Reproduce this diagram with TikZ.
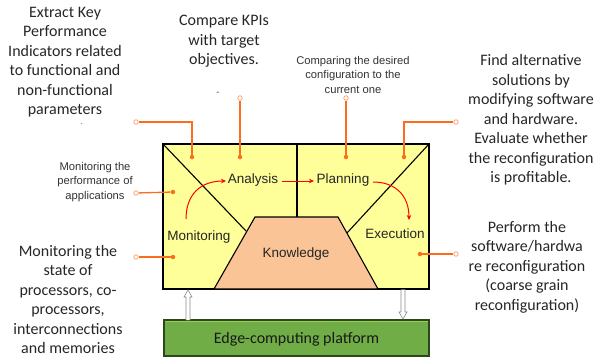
\documentclass[tikz,border=0pt]{standalone}
\usepackage{fontspec}
\setmainfont{Carlito}
\newfontfamily\arialf{Liberation Sans}
\usetikzlibrary{arrows.meta}
\definecolor{boxyellow}{RGB}{255,255,153}
\definecolor{peach}{RGB}{250,196,150}
\definecolor{lineorange}{RGB}{250,110,30}
\definecolor{edgegreen}{RGB}{112,173,71}
\definecolor{edgedark}{RGB}{45,70,30}
\definecolor{edgelight}{RGB}{146,208,80}
\tikzset{
  bigtxt/.style={align=center, inner sep=0pt, font=\fontsize{16}{19.5}\selectfont, text=black!85},
  smalltxt/.style={align=center, inner sep=0pt, font=\arialf\fontsize{11.2}{14.5}\selectfont, text=black!80},
  phase/.style={inner sep=0pt, font=\arialf\fontsize{13.5}{15}\selectfont, text=black!85},
  wire/.style={draw=lineorange, line width=1.3pt},
  dot/.style={circle, fill=lineorange, inner sep=0pt, minimum size=4.5pt},
  endc/.style={circle, draw=lineorange!70, fill=white, line width=0.7pt, inner sep=0pt, minimum size=4.5pt},
  flow/.style={draw=red, line width=1pt, -{Stealth[length=5pt,width=4.5pt]}},
  hollow/.style={draw=black!45, fill=white, line width=0.6pt}
}
\begin{document}
\begin{tikzpicture}[x=1pt,y=-1pt]
\useasboundingbox (0,0) rectangle (598,357);
% main box
\draw[fill=boxyellow, line width=1.3pt] (163,144) rectangle (429,289);
\draw[line width=1.1pt] (163,144) -- (246,231);
\draw[line width=1.1pt] (429,144) -- (347,233);
\draw[line width=1.1pt] (297,144) -- (297,217);
\draw[fill=peach, line width=1.1pt] (214,289) -- (255,217) -- (338,217) -- (378,289) -- cycle;
% phase labels
\node[phase] (mon) at (199,237) {Monitoring};
\node[phase] (ana) at (253,180) {Analysis};
\node[phase] (pla) at (343,180) {Planning};
\node[phase] (exe) at (395,234) {Execution};
\node[phase] (kno) at (296,254) {Knowledge};
% red flow arrows
\coordinate (m0) at (186,219);
\coordinate (a0) at (226,181);
\coordinate (a1) at (282,181);
\coordinate (p0) at (314,181);
\coordinate (p1) at (373,182);
\coordinate (x0) at (409,220);
\draw[flow] (m0) .. controls (186,195) and (200,181) .. (a0);
\draw[flow] (a1) -- (p0);
\draw[flow] (p1) .. controls (396,182) and (409,196) .. (x0);
% green platform
\draw[fill=edgegreen, draw=edgedark, line width=1.1pt] (164,320) rectangle (429,356);
\draw[edgelight, line width=1pt] (165,321.5) -- (428,321.5);
\node[bigtxt, text=black!90] (edge) at (296.5,339) {Edge-computing platform};
% hollow arrows
\draw[hollow] (186,320) -- (186,297) -- (184,297) -- (188,290) -- (192,297) -- (190,297) -- (190,320);
\draw[hollow] (401,289.5) -- (401,312) -- (399,312) -- (403,319) -- (407,312) -- (405,312) -- (405,289.5);
% dots and connectors
\node[dot] (d1) at (192,157) {};
\node[dot] (d2) at (240,157) {};
\node[dot] (d3) at (346,157) {};
\node[dot] (d4) at (404,157) {};
\node[dot] (d5) at (173,192) {};
\node[dot] (d6) at (173,257) {};
\node[dot] (d7) at (420,254) {};
\node[endc] (e1) at (136,122) {};
\node[endc] (e2) at (240,98) {};
\node[endc] (e3) at (346,98) {};
\node[endc] (e4) at (456,122) {};
\node[endc] (e5) at (136,193) {};
\node[endc] (e6) at (136,257) {};
\node[endc] (e7) at (456,254) {};
\draw[wire] (d1) |- (e1);
\draw[wire] (d2) -- (e2);
\draw[wire] (d3) -- (e3);
\draw[wire] (d4) |- (e4);
\draw[wire] (d5) -- (e5);
\draw[wire] (d6) -- (e6);
\draw[wire] (d7) -- (e7);
% texts
\node[bigtxt] (t1) at (65,62) {Extract Key\\Performance\\Indicators related\\to functional and\\non-functional\\parameters};
\node[inner sep=0pt, font=\fontsize{8}{8}\selectfont, text=black!70] (t1b) at (82,124) {.};
\node[bigtxt] (t2) at (224,41.5) {Compare KPIs\\with target\\objectives.};
\node[inner sep=0pt, font=\fontsize{10}{10}\selectfont, text=black!70] (t2b) at (218,94) {-};
\node[smalltxt] (t3) at (353,74.5) {Comparing the desired\\configuration to the\\current one};
\node[smalltxt] (t4) at (95,182) {Monitoring the\\performance of\\applications};
\node[bigtxt] (t5) at (531,120) {Find alternative\\solutions by\\modifying software\\and hardware.\\Evaluate whether\\the reconfiguration\\is profitable.};
\node[bigtxt] (t6) at (527,267) {Perform the\\software/hardwa\\re reconfiguration\\(coarse grain\\reconfiguration)};
\node[bigtxt] (t7) at (68,299.5) {Monitoring the\\state of\\processors, co-\\processors,\\interconnections\\and memories};
\end{tikzpicture}
\end{document}
